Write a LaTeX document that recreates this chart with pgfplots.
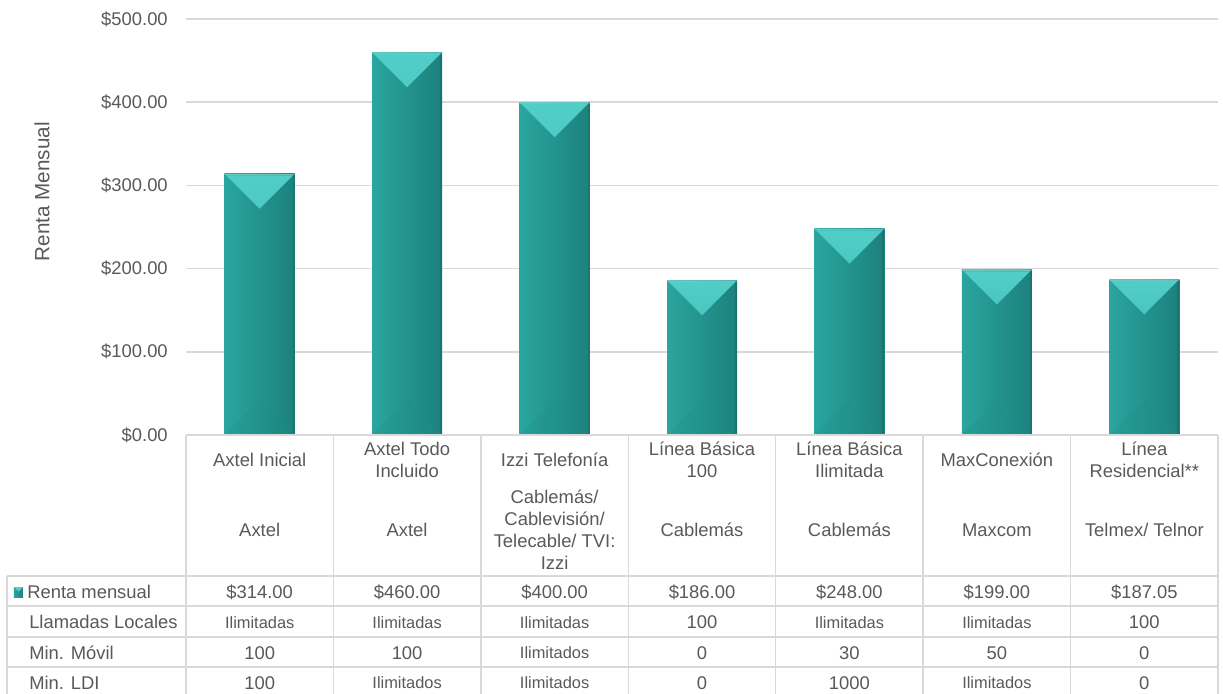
\documentclass[border=0pt]{standalone}
\usepackage{fontspec}
\setmainfont{Liberation Sans}
\usepackage{pgfplots}
\pgfplotsset{compat=1.18}
\definecolor{txt}{HTML}{595959}
\definecolor{gridc}{HTML}{D9D9D9}
\definecolor{tealA}{HTML}{2AA59F}
\definecolor{tealM}{HTML}{26A09A}
\definecolor{tealB}{HTML}{1C817C}
\definecolor{tealTop}{HTML}{52CEC8}
\definecolor{tealTopB}{HTML}{2EA9A3}
\definecolor{tealBot}{HTML}{1F8F89}
\newcommand{\sm}{\fontsize{12.3}{14}\selectfont}
\pgfplotsset{mybar/.style={draw=none, left color=tealA, middle color=tealM, right color=tealB,
  path picture={
    \tikzset{path picture={}}%
    \shade[path picture={}, top color=tealTop, bottom color=tealTopB]
      (path picture bounding box.north west) -- (path picture bounding box.north east)
      -- ([yshift=-26.25pt]path picture bounding box.north) -- cycle;
    \fill[path picture={}, tealBot, opacity=0.5]
      (path picture bounding box.south west) -- (path picture bounding box.south east)
      -- ([yshift=26.25pt]path picture bounding box.south) -- cycle;
    \fill[path picture={}, black, opacity=0.15]
      ([xshift=-1.5pt]path picture bounding box.south east) rectangle (path picture bounding box.north east);
    \fill[path picture={}, white, opacity=0.25]
      (path picture bounding box.north west) rectangle ([yshift=-1.2pt]path picture bounding box.north east);
  }}}
\begin{document}
\begin{tikzpicture}[font=\fontsize{13.8}{16.5}\selectfont, text=txt]
\useasboundingbox (-139.5pt,-193.5pt) rectangle (777.75pt,326.25pt);
\begin{axis}[
  at={(0,0)}, anchor=south west,
  scale only axis, width=774pt, height=312pt,
  xmin=-0.5, xmax=6.5, ymin=0, ymax=500,
  ybar, bar width=52.5pt, bar shift=0pt,
  axis line style={draw=none},
  major tick length=0pt,
  xtick=\empty,
  ytick={0,100,200,300,400,500},
  ymajorgrids,
  grid style={gridc, line width=1.1pt},
  /pgf/number format/assume math mode=true,
  yticklabel={\$\pgfmathprintnumber[fixed,fixed zerofill,precision=2]{\tick}},
  yticklabel style={text=txt, inner sep=0pt, anchor=east, xshift=-13.5pt},
  ylabel={Renta Mensual},
  every axis y label/.style={at={(axis description cs:0,0.585)}, xshift=-108pt, rotate=90, anchor=center, text=txt, font=\fontsize{15.5}{18}\selectfont},
  clip=false,
]
\addplot[mybar] coordinates {(0,314)};
\addplot[mybar] coordinates {(1,460)};
\addplot[mybar] coordinates {(2,400)};
\addplot[mybar] coordinates {(3,186)};
\addplot[mybar] coordinates {(4,248)};
\addplot[mybar] coordinates {(5,199)};
\addplot[mybar] coordinates {(6,187.05)};
\end{axis}
\begin{scope}[xshift=-139.5pt, yshift=326.25pt, x=0.75pt, y=-0.75pt]
  % table lines
  \begin{scope}[draw=gridc, line width=1.1pt]
    \draw (186,435) -- (1218,435);
    \foreach \yy in {576,606,637,667,697} \draw (7,\yy) -- (1218,\yy);
    \draw (7,576) -- (7,697);
    \foreach \i in {0,...,7} \draw (186+147.43*\i,435) -- (186+147.43*\i,697);
  \end{scope}
  % legend marker
  \shade[left color=tealA, right color=tealB] (14,587) rectangle (23,597);
  \fill[tealTop] (14,587) -- (23,587) -- (18.5,591.5) -- cycle;
  % row labels
  \begin{scope}[every node/.style={anchor=west, inner sep=0pt}]
    \node at (27,592) {Renta mensual};
    \node at (29,622) {Llamadas Locales};
    \node at (29,653) {Min. Móvil};
    \node at (29,683) {Min. LDI};
  \end{scope}
  \begin{scope}[every node/.style={anchor=center, inner sep=0pt, align=center}]
    % categories
    \node at (259.7,459.5) {Axtel Inicial};
    \node at (407.1,459.5) {Axtel Todo\\Incluido};
    \node at (554.6,459.5) {Izzi Telefonía};
    \node at (702.0,459.5) {Línea Básica\\100};
    \node at (849.4,459.5) {Línea Básica\\Ilimitada};
    \node at (996.9,459.5) {MaxConexión};
    \node at (1144.3,459.5) {Línea\\Residencial**};
    % providers
    \node at (259.7,530) {Axtel};
    \node at (407.1,530) {Axtel};
    \node at (554.6,530) {Cablemás/\\Cablevisión/\\Telecable/ TVI:\\Izzi};
    \node at (702.0,530) {Cablemás};
    \node at (849.4,530) {Cablemás};
    \node at (996.9,530) {Maxcom};
    \node at (1144.3,530) {Telmex/ Telnor};
    % renta mensual
    \node at (259.7,592) {\$314.00};
    \node at (407.1,592) {\$460.00};
    \node at (554.6,592) {\$400.00};
    \node at (702.0,592) {\$186.00};
    \node at (849.4,592) {\$248.00};
    \node at (996.9,592) {\$199.00};
    \node at (1144.3,592) {\$187.05};
    % llamadas locales
    \node[font=\sm] at (259.7,623) {Ilimitadas};
    \node[font=\sm] at (407.1,623) {Ilimitadas};
    \node[font=\sm] at (554.6,623) {Ilimitadas};
    \node at (702.0,622) {100};
    \node[font=\sm] at (849.4,623) {Ilimitadas};
    \node[font=\sm] at (996.9,623) {Ilimitadas};
    \node at (1144.3,622) {100};
    % min movil
    \node at (259.7,653) {100};
    \node at (407.1,653) {100};
    \node[font=\sm] at (554.6,653) {Ilimitados};
    \node at (702.0,653) {0};
    \node at (849.4,653) {30};
    \node at (996.9,653) {50};
    \node at (1144.3,653) {0};
    % min LDI
    \node at (259.7,683) {100};
    \node[font=\sm] at (407.1,683) {Ilimitados};
    \node[font=\sm] at (554.6,683) {Ilimitados};
    \node at (702.0,683) {0};
    \node at (849.4,683) {1000};
    \node[font=\sm] at (996.9,683) {Ilimitados};
    \node at (1144.3,683) {0};
  \end{scope}
\end{scope}
\end{tikzpicture}
\end{document}
